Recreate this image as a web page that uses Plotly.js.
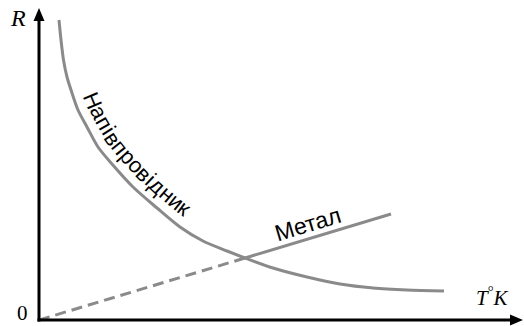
<!DOCTYPE html>
<html>
<head>
<meta charset="utf-8">
<script src="https://cdn.plot.ly/plotly-3.0.1.min.js"></script>
<style>html,body{margin:0;padding:0;background:#fff;}#plot{width:524px;height:326px;}</style>
</head>
<body>
<div id="plot"></div>
<script>
// semiconductor curve (R falls with T)
var T_semi = [20, 22, 24.5, 28, 33, 39, 48, 59, 73, 94, 118, 141, 164, 188, 206, 234, 268, 301, 334, 368, 405];
var R_semi = [300, 280, 260, 243, 227, 210, 193, 173, 156, 133, 112, 93, 79, 69, 62, 52, 43, 36, 32, 30, 29];

// metal: straight line, dashed below the crossing
var T_metal = [0, 206, 352];
var R_metal = [0, 62, 106];

var semiLabel = 'Напівпровідник';
var metalLabel = 'Метал';

var M = {l: 39, r: 1, t: 8, b: 6};
var W = 524 - M.l - M.r, H = 326 - M.t - M.b;
var xMax = 484, yMax = 312;
var gray = '#8a8a8a';

function px(t) { return M.l + t * W / xMax; }
function py(r) { return M.t + (yMax - r) * H / yMax; }
function invX(x) { return (x - M.l) * xMax / W; }
function invY(y) { return yMax - (y - M.t) * yMax / H; }
function paperX(x) { return (x - M.l) / W; }
function paperY(y) { return 1 - (y - M.t) / H; }

var data = [
  {x: T_semi, y: R_semi, mode: 'lines', line: {color: gray, width: 3, shape: 'spline', smoothing: 0.8}, hoverinfo: 'skip'},
  {x: T_metal.slice(0, 2), y: R_metal.slice(0, 2), mode: 'lines', line: {color: gray, width: 3, dash: '11px,6px'}, hoverinfo: 'skip'},
  {x: T_metal.slice(1), y: R_metal.slice(1), mode: 'lines', line: {color: gray, width: 3}, hoverinfo: 'skip'}
];

var serif = 'Liberation Serif, DejaVu Serif, serif';
var sans = 'Liberation Sans, Arial, sans-serif';

// axis lines with filled arrowheads, in paper space so they are not clipped
var ox = px(0), oy = py(0), topY = py(yMax), endX = px(xMax);
function P(x, y) { return paperX(x) + ',' + paperY(y); }
var shapes = [
  {type: 'line', xref: 'paper', yref: 'paper', x0: paperX(ox), y0: paperY(oy + 1.5), x1: paperX(ox), y1: paperY(topY + 11),
   line: {color: '#000', width: 3}},
  {type: 'line', xref: 'paper', yref: 'paper', x0: paperX(ox - 1.5), y0: paperY(oy), x1: paperX(endX - 11), y1: paperY(oy),
   line: {color: '#000', width: 3}},
  {type: 'path', xref: 'paper', yref: 'paper', fillcolor: '#000', line: {width: 0},
   path: 'M' + P(ox - 5.5, topY + 13) + ' L' + P(ox + 5.5, topY + 13) + ' L' + P(ox, topY) + ' Z'},
  {type: 'path', xref: 'paper', yref: 'paper', fillcolor: '#000', line: {width: 0},
   path: 'M' + P(endX - 13, oy - 5.5) + ' L' + P(endX - 13, oy + 5.5) + ' L' + P(endX, oy) + ' Z'}
];

function label(x, y, text, size) {
  return {x: paperX(x), y: paperY(y), xref: 'paper', yref: 'paper', xanchor: 'center', yanchor: 'middle',
    text: text, showarrow: false, font: {family: serif, size: size, color: '#000'}};
}

var ann = [
  label(18, 18, '<i>R</i>', 24),
  label(22.5, 313, '0', 21),
  label(492, 296, '<i>T</i><sup>°</sup><i>K</i>', 21)
];

// "Метал" along the metal line
(function () {
  var x0 = px(T_metal[1]), y0 = py(R_metal[1]), x1 = px(T_metal[2]), y1 = py(R_metal[2]);
  var L = Math.hypot(x1 - x0, y1 - y0), tx = (x1 - x0) / L, ty = (y1 - y0) / L;
  var f = (273 - T_metal[1]) / (T_metal[2] - T_metal[1]);
  var cx = x0 + f * (x1 - x0) + 14 * ty, cy = y0 + f * (y1 - y0) - 14 * tx;
  ann.push({x: invX(cx), y: invY(cy), text: metalLabel, showarrow: false, xanchor: 'center', yanchor: 'middle',
    textangle: Math.atan2(ty, tx) * 180 / Math.PI, font: {family: sans, size: 23, color: '#000'}});
})();

// "Напівпровідник" letter by letter along the curve
(function () {
  var fs = 22, d = 17, startT = 35;
  var ctx = document.createElement('canvas').getContext('2d');
  ctx.font = fs + 'px "Liberation Sans"';
  var p = T_semi.map(function (t, i) { return [px(t), py(R_semi[i])]; });
  var n = p.length, q = [], ang = [], s = [0];
  for (var i = 0; i < n; i++) {
    var a = p[Math.max(i - 1, 0)], b = p[Math.min(i + 1, n - 1)];
    var dx = b[0] - a[0], dy = b[1] - a[1], l = Math.hypot(dx, dy);
    dx /= l; dy /= l;
    q.push([p[i][0] + d * dy, p[i][1] - d * dx]);
    ang.push(Math.atan2(dy, dx));
    if (i > 0) s.push(s[i - 1] + Math.hypot(q[i][0] - q[i - 1][0], q[i][1] - q[i - 1][1]));
  }
  function at(sv) {
    var k = 0;
    while (k < n - 2 && s[k + 1] < sv) k++;
    var f = (sv - s[k]) / (s[k + 1] - s[k]);
    return [q[k][0] + f * (q[k + 1][0] - q[k][0]), q[k][1] + f * (q[k + 1][1] - q[k][1]),
      ang[k] + f * (ang[k + 1] - ang[k])];
  }
  var k = 0;
  while (T_semi[k + 1] < startT) k++;
  var s0 = s[k] + (startT - T_semi[k]) / (T_semi[k + 1] - T_semi[k]) * (s[k + 1] - s[k]);
  var cum = 0;
  semiLabel.split('').forEach(function (ch) {
    var w = ctx.measureText(ch).width;
    var pt = at(s0 + cum + w / 2);
    cum += w;
    ann.push({x: invX(pt[0]), y: invY(pt[1]), text: ch, showarrow: false, xanchor: 'center', yanchor: 'middle',
      textangle: pt[2] * 180 / Math.PI, font: {family: sans, size: fs, color: '#000'}});
  });
})();

var layout = {
  width: 524, height: 326,
  margin: M,
  paper_bgcolor: '#fff', plot_bgcolor: '#fff',
  showlegend: false,
  xaxis: {range: [0, xMax], visible: false, fixedrange: true},
  yaxis: {range: [0, yMax], visible: false, fixedrange: true},
  shapes: shapes,
  annotations: ann
};

Plotly.newPlot('plot', data, layout, {displayModeBar: false, staticPlot: true});
</script>
</body>
</html>
